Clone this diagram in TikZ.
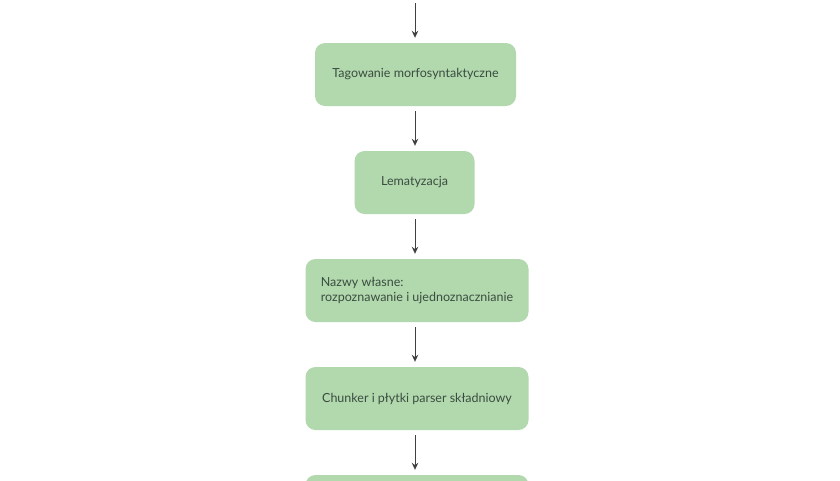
\documentclass[tikz,border=0pt]{standalone}
\usepackage{fontspec}
\setmainfont{Lato}
\usetikzlibrary{arrows.meta}
\definecolor{boxgreen}{HTML}{B2D8AD}
\definecolor{boxtext}{HTML}{3A4D40}
\definecolor{arrowgrey}{HTML}{404040}
\begin{document}
\begin{tikzpicture}[x=1pt,y=-1pt,
    stage/.style={fill=boxgreen,rounded corners=10pt,minimum height=63pt,
      inner sep=0pt,text=boxtext,font=\fontsize{12.5}{15}\selectfont},
    flow/.style={draw=arrowgrey,line width=1pt,
      -{Stealth[length=7pt,width=6.5pt]},shorten <=5pt,shorten >=5pt}]
      \useasboundingbox (0,0) rectangle (840,480);
      \clip (0,0) rectangle (840,480);
      \coordinate (start) at (415,-2);
      \draw
        (415.5,74.5) node[stage,minimum width=201pt] (tag){Tagowanie morfosyntaktyczne}
        (414.5,182.5) node[stage,minimum width=120pt] (lem){Lematyzacja}
        (417,290.5) node[stage,minimum width=223pt,align=left] (ner){Nazwy własne:\\rozpoznawanie i ujednoznacznianie}
        (417,398.5) node[stage,minimum width=223pt] (chunk){Chunker i płytki parser składniowy}
        (417,506.5) node[stage,minimum width=223pt] (next){};
      \begin{scope}[flow]
        \draw (start) to (start |- tag.north);
        \draw (tag.south -| start) to (start |- lem.north);
        \draw (lem.south -| start) to (start |- ner.north);
        \draw (ner.south -| start) to (start |- chunk.north);
        \draw (chunk.south -| start) to (start |- next.north);
      \end{scope}
    \end{tikzpicture}
\end{document}
